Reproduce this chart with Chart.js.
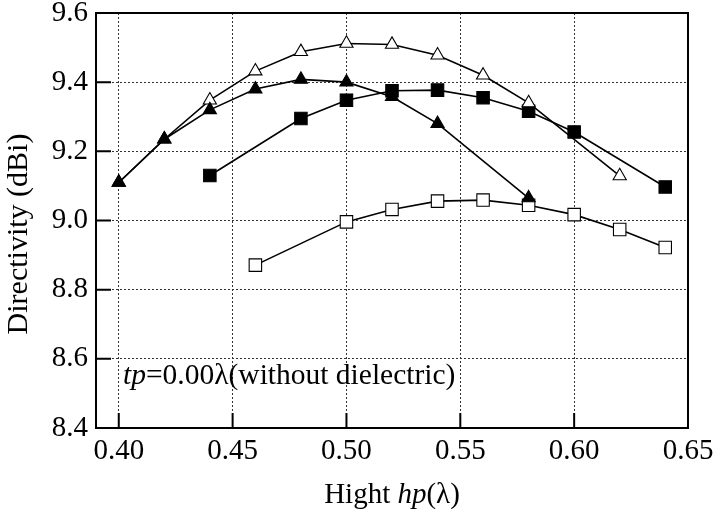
<!DOCTYPE html>
<html>
<head>
<meta charset="utf-8">
<script src="https://cdn.jsdelivr.net/npm/chart.js@4"></script>
<style>
html,body{margin:0;padding:0;background:#fff;}
#wrap{width:715px;height:517px;position:relative;}
</style>
</head>
<body>
<div id="wrap"><canvas id="c"></canvas></div>
<script>
const xTicks = [0.40, 0.45, 0.50, 0.55, 0.60, 0.65];
const yTicks = [8.4, 8.6, 8.8, 9.0, 9.2, 9.4, 9.6];

const hpFilledTri = [0.40, 0.42, 0.44, 0.46, 0.48, 0.50, 0.52, 0.54, 0.58];
const dFilledTri  = [9.11, 9.235, 9.32, 9.38, 9.408, 9.40, 9.358, 9.28, 9.065];

const hpOpenTri = [0.40, 0.42, 0.44, 0.46, 0.48, 0.50, 0.52, 0.54, 0.56, 0.58, 0.62];
const dOpenTri  = [9.11, 9.235, 9.348, 9.432, 9.488, 9.512, 9.509, 9.478, 9.42, 9.34, 9.129];

const hpFilledSq = [0.44, 0.48, 0.50, 0.52, 0.54, 0.56, 0.58, 0.60, 0.64];
const dFilledSq  = [9.13, 9.295, 9.348, 9.375, 9.377, 9.355, 9.316, 9.256, 9.097];

const hpOpenSq = [0.46, 0.50, 0.52, 0.54, 0.56, 0.58, 0.60, 0.62, 0.64];
const dOpenSq  = [8.871, 8.996, 9.032, 9.056, 9.059, 9.044, 9.017, 8.974, 8.922];

const annotationItalic = 'tp';
const annotationRest = '=0.00λ(without dielectric)';
const xTitleParts = [['Hight ', false], ['hp', true], ['(λ)', false]];
const yTitle = 'Directivity (dBi)';

const FONT = '"Liberation Serif", "Times New Roman", serif';
const FS = 29;

function pts(xs, ys) { return xs.map((x, i) => ({x: x, y: ys[i]})); }

function ds(label, xs, ys, style, fill, radius, order) {
  return {
    label: label,
    data: pts(xs, ys),
    borderColor: '#000',
    borderWidth: 1.6,
    pointStyle: style,
    pointRadius: radius,
    pointHoverRadius: radius,
    pointBackgroundColor: fill,
    pointBorderColor: '#000',
    pointBorderWidth: 1.1,
    showLine: true,
    tension: 0,
    fill: false,
    order: order
  };
}

const framePlugin = {
  id: 'frame',
  afterDraw(chart) {
    const ctx = chart.ctx;
    const xs = chart.scales.x, ys = chart.scales.y;
    const a = chart.chartArea;
    ctx.save();
    ctx.strokeStyle = '#000';
    ctx.lineWidth = 2;
    ctx.setLineDash([]);
    ctx.strokeRect(a.left, a.top, a.right - a.left, a.bottom - a.top);
    // inward tick marks
    ctx.beginPath();
    xTicks.forEach(v => {
      const px = xs.getPixelForValue(v);
      ctx.moveTo(px, a.bottom);
      ctx.lineTo(px, a.bottom - 15);
    });
    yTicks.forEach(v => {
      const py = ys.getPixelForValue(v);
      ctx.moveTo(a.left, py);
      ctx.lineTo(a.left + 15, py);
    });
    ctx.stroke();

    ctx.fillStyle = '#000';
    ctx.textBaseline = 'alphabetic';
    ctx.textAlign = 'left';

    // annotation
    const AFS = 29.5;
    let x0 = a.left + 27, y0 = 384;
    ctx.font = 'italic ' + AFS + 'px ' + FONT;
    ctx.fillText(annotationItalic, x0, y0);
    x0 += ctx.measureText(annotationItalic).width;
    ctx.font = AFS + 'px ' + FONT;
    ctx.fillText(annotationRest, x0, y0);

    // x title
    let total = 0;
    xTitleParts.forEach(p => {
      ctx.font = (p[1] ? 'italic ' : '') + FS + 'px ' + FONT;
      total += ctx.measureText(p[0]).width;
    });
    let tx = (a.left + a.right) / 2 - total / 2;
    xTitleParts.forEach(p => {
      ctx.font = (p[1] ? 'italic ' : '') + FS + 'px ' + FONT;
      ctx.fillText(p[0], tx, 503);
      tx += ctx.measureText(p[0]).width;
    });

    // y title
    ctx.save();
    ctx.translate(27, 234);
    ctx.rotate(-Math.PI / 2);
    ctx.font = '30px ' + FONT;
    ctx.textAlign = 'center';
    ctx.fillText(yTitle, 0, 0);
    ctx.restore();

    ctx.restore();
  }
};

new Chart(document.getElementById('c'), {
  type: 'scatter',
  data: {
    datasets: [
      ds('filled triangle', hpFilledTri, dFilledTri, 'triangle', '#000', 7.6, 0),
      ds('open triangle', hpOpenTri, dOpenTri, 'triangle', '#fff', 7.6, 1),
      ds('filled square', hpFilledSq, dFilledSq, 'rect', '#000', 8.8, 2),
      ds('open square', hpOpenSq, dOpenSq, 'rect', '#fff', 8.8, 3)
    ]
  },
  options: {
    responsive: true,
    maintainAspectRatio: false,
    animation: false,
    events: [],
    layout: { padding: { left: 0, top: 13, right: 27, bottom: 0 } },
    plugins: { legend: { display: false }, tooltip: { enabled: false } },
    scales: {
      x: {
        type: 'linear',
        min: 0.39,
        max: 0.65,
        afterBuildTicks(scale) { scale.ticks = xTicks.map(v => ({value: v})); },
        afterFit(scale) { scale.height = 89; scale.paddingLeft = 0; scale.paddingRight = 0; },
        ticks: {
          color: '#000',
          padding: 6,
          maxRotation: 0,
          autoSkip: false,
          font: { family: FONT, size: FS },
          callback: v => Number(v).toFixed(2)
        },
        grid: { color: '#333', lineWidth: 1, drawTicks: false },
        border: { display: false, dash: [2, 2] }
      },
      y: {
        type: 'linear',
        min: 8.4,
        max: 9.6,
        afterBuildTicks(scale) { scale.ticks = yTicks.map(v => ({value: v})); },
        afterFit(scale) { scale.width = 96; scale.paddingTop = 0; scale.paddingBottom = 0; },
        ticks: {
          color: '#000',
          padding: 8,
          autoSkip: false,
          font: { family: FONT, size: FS },
          callback: v => Number(v).toFixed(1)
        },
        grid: { color: '#333', lineWidth: 1, drawTicks: false },
        border: { display: false, dash: [2, 2] }
      }
    }
  },
  plugins: [framePlugin]
});
</script>
</body>
</html>
